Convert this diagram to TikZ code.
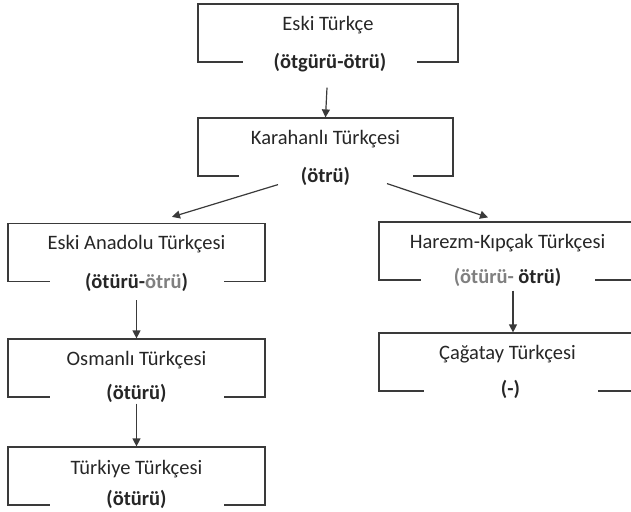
\documentclass[tikz,border=0pt]{standalone}
\usepackage{fontspec}
\setmainfont{Carlito}
\usetikzlibrary{arrows.meta}
\definecolor{tline}{HTML}{3A3A3A}
\definecolor{ttext}{HTML}{262626}
\definecolor{tgray}{HTML}{808080}
\tikzset{
  stage/.style={draw=tline, line width=1.2pt, minimum width=257pt, minimum height=58pt, inner sep=0pt},
  title/.style={text=ttext, font=\fontsize{20.5}{24}\selectfont, inner sep=0pt},
  form/.style={fill=white, text=ttext, font=\fontsize{20.5}{24}\selectfont\bfseries, minimum width=174pt, inner xsep=0pt, inner ysep=1pt},
  flow/.style={draw=tline, line width=1.2pt, -{Triangle[length=8pt,width=8pt]}}
}
\begin{document}
\begin{tikzpicture}[x=1pt, y=-1pt]
  \clip (0,0) rectangle (631,511);
  \node[stage, minimum width=260pt] (eski) at (328,33) {};
  \node[stage, minimum width=255pt] (kara) at (325.5,147) {};
  \node[stage] (anad) at (136.5,252.5) {};
  \node[stage] (harezm) at (507.5,251) {};
  \node[stage] (osm) at (136.5,368) {};
  \node[stage] (turk) at (136.5,476) {};
  \node[stage] (cag) at (507.5,362) {};

  \node[title] at ([yshift=-21.5pt]eski.north) {Eski Türkçe};
  \node[title] at ([yshift=-21.5pt]kara.north) {Karahanlı Türkçesi};
  \node[title] at ([yshift=-21.5pt]anad.north) {Eski Anadolu Türkçesi};
  \node[title] at ([yshift=-21.5pt]harezm.north) {Harezm-Kıpçak Türkçesi};
  \node[title] at ([yshift=-21.5pt]osm.north) {Osmanlı Türkçesi};
  \node[title] at ([yshift=-22.5pt]turk.north) {Türkiye Türkçesi};
  \node[title] at ([yshift=-22pt]cag.north) {Çağatay Türkçesi};

  \node[form] (eski-f) at ([xshift=2pt]eski.south) {(ötgürü-ötrü)};
  \node[form] (kara-f) at (kara.south) {(ötrü)};
  \node[form] (anad-f) at (anad.south) {(ötürü-\textcolor{tgray}{ötrü})};
  \node[form] (harezm-f) at ([yshift=3pt]harezm.south) {\textcolor{tgray}{(ötürü-} ötrü)};
  \node[form] (osm-f) at ([yshift=4pt]osm.south) {(ötürü)};
  \node[form] (turk-f) at ([yshift=6.5pt]turk.south) {(ötürü)};
  \node[form] (cag-f) at ([xshift=3pt,yshift=2pt]cag.south) {(-)};

  \begin{scope}[flow]
    \draw ([xshift=-1pt,yshift=-25pt]eski.south) -- (kara.north);
    \draw ([xshift=-47.5pt,yshift=-8pt]kara.south) -- ([xshift=35.5pt,yshift=6pt]anad.north);
    \draw ([xshift=61.5pt,yshift=-7pt]kara.south) -- ([xshift=-19.5pt,yshift=4pt]harezm.north);
    \draw ([yshift=-18pt]anad.south) -- (osm.north);
    \draw ([yshift=-6pt]osm.south) -- (turk.north);
    \draw ([xshift=5.5pt,yshift=-10pt]harezm.south) -- ([xshift=5.5pt]cag.north);
  \end{scope}
\end{tikzpicture}
\end{document}
